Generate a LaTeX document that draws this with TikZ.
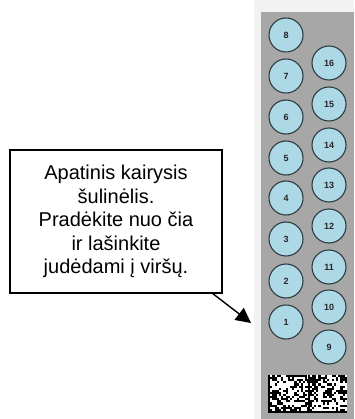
\documentclass[tikz,border=0pt]{standalone}
\usepackage{fontspec}
\setmainfont{Liberation Sans}
\usetikzlibrary{arrows.meta}
\definecolor{stripgray}{HTML}{A7A7A7}
\definecolor{framegray}{HTML}{F2F2F2}
\definecolor{wellblue}{HTML}{ADD8E6}
\definecolor{welledge}{HTML}{2E3B40}
\begin{document}
\begin{tikzpicture}[x=1pt,y=-1pt,
  well/.style={circle,draw=welledge,line width=1.1pt,fill=wellblue,minimum size=34pt,inner sep=0pt,font=\fontsize{9}{10}\selectfont\bfseries,text=black!85},
  callout/.style={draw=black,line width=1.4pt,fill=white,align=center,inner sep=0pt,font=\fontsize{20}{23.5}\selectfont},
  pointer/.style={line width=1.4pt,-{Triangle[length=15pt,width=15pt]}}]
\useasboundingbox (0,0) rectangle (354,419);
\fill[white] (0,0) rectangle (354,419);
\fill[framegray] (254,0) rectangle (354,419);
\fill[stripgray] (261,12) rectangle (354,419);
% left column
\foreach \n/\y in {8/35,7/76,6/117,5/158,4/198,3/239,2/281,1/322}
  \node[well] (w\n) at (286,\y) {\n};
% right column
\foreach \n/\y in {16/63,15/104,14/145,13/185,12/226,11/267,10/307,9/347}
  \node[well] (w\n) at (329,\y) {\n};
% data matrix code
\fill[white] (268,375) rectangle (347,413);
\pgfmathsetseed{7}
\foreach \i in {0,...,35}{
  \foreach \j in {0,...,16}{
    \pgfmathparse{rnd>0.5?1:0}
    \ifnum\pgfmathresult=1
      \fill[black] ({268+\i*2.194},{375+\j*2.11}) rectangle ++(2.194,2.11);
    \fi
  }
}
\fill[black] (268,410.9) rectangle (347,413);
\fill[black] (268,375) rectangle (270.2,413);
\fill[black] (307.5,375) rectangle (309.7,413);
% callout
\node[callout,minimum width=212pt,minimum height=143pt] (box) at (116,221.5)
  {Apatinis kairysis\\šulinėlis.\\Pradėkite nuo čia\\ir lašinkite\\judėdami į viršų.};
\coordinate (start) at (212,293);
\coordinate (tip) at (251,323);
\draw[pointer] (start) -- (tip);
\end{tikzpicture}
\end{document}
